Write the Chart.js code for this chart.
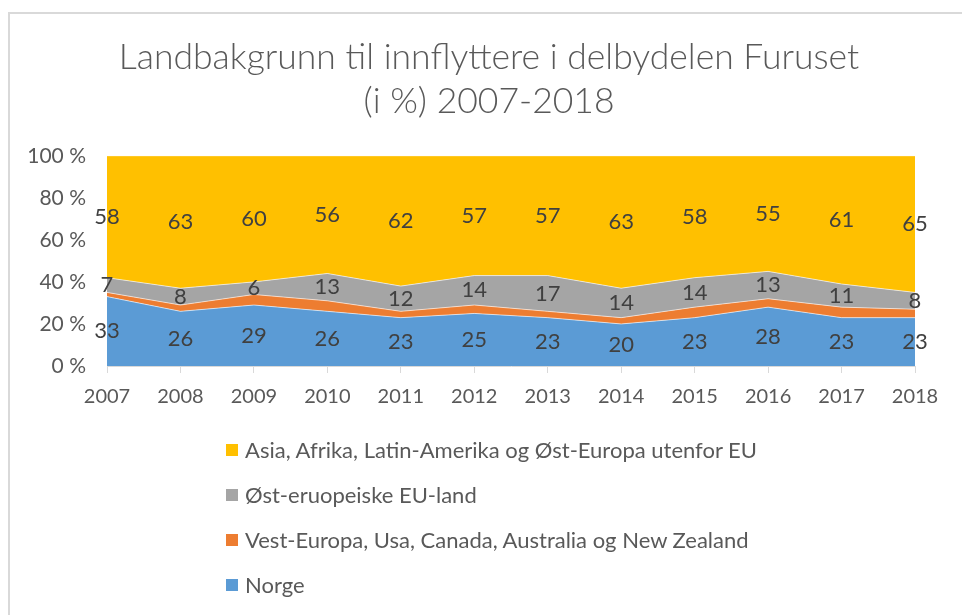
<!DOCTYPE html>
<html>
<head>
<meta charset="utf-8">
<script src="https://cdn.jsdelivr.net/npm/chart.js@4/dist/chart.umd.min.js"></script>
<style>
  body { margin: 0; background: #fff; overflow: hidden; font-family: Lato, "Open Sans", sans-serif; }
  #wrap { position: relative; width: 962px; height: 615px; overflow: hidden; }
  #frame { position: absolute; left: 8px; top: 12px; width: 1000px; height: 700px; border: 2px solid #d9d9d9; }
  canvas { position: absolute; left: 0; top: 0; }
  #legend { position: absolute; left: 226px; top: 427px; color: #595959; font-size: 22px; }
  #legend div { height: 45px; line-height: 28px; display: flex; align-items: center; }
  #legend span.box { display: inline-block; width: 12px; height: 12px; margin-right: 7px; }
</style>
</head>
<body>
<div id="wrap">
  <div id="frame"></div>
  <canvas id="chart" width="978" height="615"></canvas>
  <div id="legend"></div>
</div>
<script>
const years = ['2007','2008','2009','2010','2011','2012','2013','2014','2015','2016','2017','2018'];
const norge = [33, 26, 29, 26, 23, 25, 23, 20, 23, 28, 23, 23];
const vestEuropa = [2, 3, 5, 5, 3, 4, 3, 3, 5, 4, 5, 4];
const ostEU = [7, 8, 6, 13, 12, 14, 17, 14, 14, 13, 11, 8];
const asiaAfrika = [58, 63, 60, 56, 62, 57, 57, 63, 58, 55, 61, 65];
const yTicks = [0, 20, 40, 60, 80, 100];

const textColor = '#595959';

// draws the value in the middle of each stacked band
const bandLabels = {
  id: 'bandLabels',
  afterDatasetsDraw(chart) {
    const ctx = chart.ctx;
    const x = chart.scales.x, y = chart.scales.y;
    ctx.save();
    ctx.font = '22px Lato';
    ctx.fillStyle = '#404040';
    ctx.textAlign = 'center';
    ctx.textBaseline = 'middle';
    chart.data.datasets.forEach((ds, d) => {
      if (!ds.showLabels) return;
      ds.data.forEach((v, i) => {
        let base = 0;
        for (let k = 0; k < d; k++) base += chart.data.datasets[k].data[i];
        ctx.fillText(v, x.getPixelForValue(i), y.getPixelForValue(base + v / 2));
      });
    });
    ctx.restore();
  }
};

const series = [
  {label: 'Norge', data: norge, color: '#5B9BD5', showLabels: true},
  {label: 'Vest-Europa, Usa, Canada, Australia og New Zealand', data: vestEuropa, color: '#ED7D31', showLabels: false},
  {label: 'Øst-eruopeiske EU-land', data: ostEU, color: '#A5A5A5', showLabels: true},
  {label: 'Asia, Afrika, Latin-Amerika og Øst-Europa utenfor EU', data: asiaAfrika, color: '#FFC000', showLabels: true},
];

const chart = new Chart(document.getElementById('chart'), {
  type: 'line',
  data: {
    labels: years,
    datasets: series.map((s, i) => ({
      label: s.label,
      data: s.data,
      showLabels: s.showLabels,
      backgroundColor: s.color,
      borderColor: 'rgba(255,255,255,0.6)',
      borderWidth: 1,
      pointRadius: 0,
      tension: 0,
      fill: i === 0 ? 'origin' : '-1',
    }))
  },
  options: {
    responsive: false,
    animation: false,
    layout: {padding: {top: 0, left: 0, right: 0, bottom: 204}},
    plugins: {
      legend: {display: false},
      tooltip: {enabled: false},
      title: {
        display: true,
        text: ['Landbakgrunn til innflyttere i delbydelen Furuset', '(i %) 2007-2018'],
        color: textColor,
        font: {family: 'Lato', size: 35.5, weight: '300', lineHeight: 1.25},
        padding: {top: 35, bottom: 32},
      }
    },
    scales: {
      x: {
        grid: {display: true, drawOnChartArea: false, drawTicks: true, tickLength: 7, color: '#d9d9d9'},
        border: {display: true, color: '#d9d9d9'},
        ticks: {color: textColor, font: {family: 'Lato', size: 20}, padding: 12, maxRotation: 0},
        afterFit(scale) { scale.height = 45; }
      },
      y: {
        stacked: true,
        min: 0,
        max: 100,
        grid: {display: false},
        border: {display: false},
        afterBuildTicks(scale) { scale.ticks = yTicks.map(v => ({value: v})); },
        ticks: {color: textColor, font: {family: 'Lato', size: 21}, padding: 13, callback: v => v + ' %'},
        afterFit(scale) { scale.width = 107; }
      },
      // empty right-hand spacer so the plot ends at the same place as the original
      spacer: {
        position: 'right',
        grid: {display: false},
        border: {display: false},
        ticks: {display: false},
        afterFit(scale) { scale.width = 63; }
      }
    }
  },
  plugins: [bandLabels]
});

// legend: top-to-bottom in reverse dataset order
const legend = document.getElementById('legend');
series.slice().reverse().forEach(s => {
  const row = document.createElement('div');
  row.innerHTML = '<span class="box" style="background:' + s.color + '"></span>' + s.label;
  legend.appendChild(row);
});
</script>
</body>
</html>
